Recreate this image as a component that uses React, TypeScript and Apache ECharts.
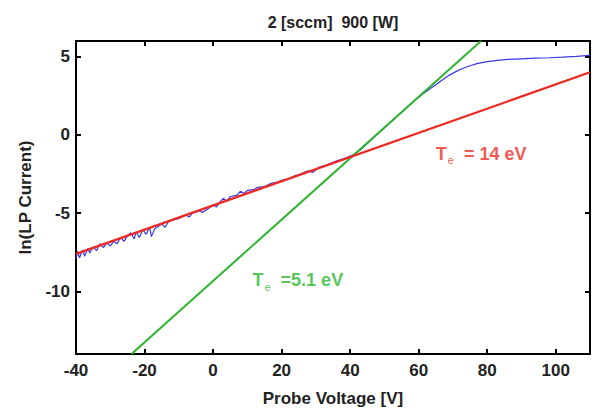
import React, { useEffect, useRef } from "react";
import * as echarts from "echarts";

const titleText = "2 [sccm]  900 [W]";
const xName = "Probe Voltage [V]";
const yName = "ln(LP Current)";

const xTicks = [-40, -20, 0, 20, 40, 60, 80, 100];
const yTicks = [-10, -5, 0, 5];

// measured probe trace (V, ln I)
const probeVoltage = [
  -40, -39.5, -39, -38, -37.5, -36.5, -36, -35, -34, -33, -32, -31, -30, -29, -28, -27, -26, -25,
  -24, -23, -22.5, -21.5, -20.5, -19.5, -18.5, -18, -17, -16, -15, -14, -13, -12, -10, -8, -7, -6,
  -4, -3, -1, 0, 1, 2, 3, 4, 5, 7, 8, 9, 10, 12, 13, 15, 17, 19, 20, 22, 24, 25, 27, 28, 29, 31,
  33, 35, 37, 39, 41, 43, 45, 47, 49, 51, 53, 55, 57, 59, 61, 63, 65, 67, 69, 71, 73, 75, 77, 80,
  83, 86, 90, 94, 98, 102, 106, 110,
];
const lnCurrent = [
  -7.9, -7.45, -7.85, -7.35, -7.75, -7.25, -7.55, -7.15, -7.4, -6.95, -7.2, -6.9, -7.1, -6.8, -6.95,
  -6.55, -6.8, -6.45, -6.25, -6.65, -6.2, -6.55, -6.05, -6.35, -5.9, -6.5, -6.0, -5.85, -5.7, -5.9,
  -5.55, -5.45, -5.35, -5.1, -5.25, -5.0, -4.85, -4.95, -4.65, -4.45, -4.6, -4.3, -4.05, -4.25,
  -3.95, -3.85, -3.6, -3.75, -3.55, -3.5, -3.35, -3.3, -3.1, -3.0, -2.9, -2.8, -2.6, -2.55, -2.35,
  -2.3, -2.4, -2.05, -1.95, -1.75, -1.6, -1.45, -1.25, -0.95, -0.55, -0.15, 0.25, 0.65, 1.05, 1.45,
  1.85, 2.22, 2.58, 2.9, 3.2, 3.52, 3.82, 4.06, 4.26, 4.42, 4.55, 4.68, 4.76, 4.82, 4.86, 4.9, 4.93,
  4.97, 5.02, 5.08,
];

// fit lines
const redFitX = [-40, 110];
const redFitY = [-7.6, 4.0];
const greenFitX = [-23.8, 78.2];
const greenFitY = [-14, 6];

// annotation anchors
const redLabelPos = [65, -1.2];
const greenLabelPos = [11.5, -9.3];
const redLabelValue = " = 14 eV";
const greenLabelValue = " =5.1 eV";

const RED = "#ec2a22";
const GREEN = "#2db52d";
const BLUE = "#3838e8";
const FONT = "Liberation Sans, Arial, Helvetica, sans-serif";

function zip(xs: number[], ys: number[]) {
  return xs.map((x, i) => [x, ys[i]]);
}

function richLabel(color: string) {
  return {
    t: { color, fontSize: 18, fontWeight: "bold", fontFamily: FONT, lineHeight: 24 },
    s: { color, fontSize: 11, fontFamily: FONT, lineHeight: 11, padding: [13, 5, 0, 1] },
    v: { color, fontSize: 18, fontWeight: "bold", fontFamily: FONT, lineHeight: 24 },
  };
}

export default function App() {
  const ref = useRef<HTMLDivElement>(null);
  useEffect(() => {
    if (!ref.current) return;
    const chart = echarts.init(ref.current, null, { renderer: "svg" });
    const axisLine = { onZero: false, lineStyle: { color: "#000", width: 2 } };
    const tickStyle = { color: "#000", width: 2 };
    const nameStyle = { color: "#222", fontSize: 17, fontWeight: "bold", fontFamily: FONT };
    const tickLabel = {
      color: "#222",
      fontSize: 17,
      fontWeight: "bold",
      fontFamily: FONT,
      formatter: (v: number) => String(v),
    };
    chart.setOption({
      animation: false,
      backgroundColor: "#fff",
      grid: { left: 76, right: 3, top: 41, bottom: 56, containLabel: false },
      xAxis: [
        {
          type: "value",
          position: "bottom",
          min: -40,
          max: 110,
          name: xName,
          nameLocation: "middle",
          nameGap: 36,
          nameTextStyle: nameStyle,
          axisLine,
          axisTick: { show: true, inside: true, length: 5, customValues: xTicks, lineStyle: tickStyle },
          axisLabel: { ...tickLabel, customValues: xTicks, margin: 8 },
          splitLine: { show: false },
        },
        {
          type: "value",
          position: "top",
          min: -40,
          max: 110,
          name: titleText,
          nameLocation: "middle",
          nameGap: 11,
          nameTextStyle: { ...nameStyle, fontSize: 16 },
          axisLine,
          axisTick: { show: true, inside: true, length: 5, customValues: xTicks, lineStyle: tickStyle },
          axisLabel: { show: false },
          splitLine: { show: false },
        },
      ],
      yAxis: [
        {
          type: "value",
          position: "left",
          min: -14,
          max: 6,
          name: yName,
          nameLocation: "middle",
          nameGap: 42,
          nameTextStyle: nameStyle,
          axisLine,
          axisTick: { show: true, inside: true, length: 5, customValues: yTicks, lineStyle: tickStyle },
          axisLabel: { ...tickLabel, customValues: yTicks, margin: 6 },
          splitLine: { show: false },
        },
        {
          type: "value",
          position: "right",
          min: -14,
          max: 6,
          axisLine,
          axisTick: { show: true, inside: true, length: 5, customValues: yTicks, lineStyle: tickStyle },
          axisLabel: { show: false },
          splitLine: { show: false },
        },
      ],
      series: [
        {
          type: "line",
          name: "trace",
          data: zip(probeVoltage, lnCurrent),
          showSymbol: false,
          symbol: "none",
          lineStyle: { color: BLUE, width: 1.2 },
          z: 2,
        },
        {
          type: "line",
          name: "green fit",
          data: zip(greenFitX, greenFitY),
          showSymbol: false,
          symbol: "none",
          lineStyle: { color: GREEN, width: 2 },
          z: 3,
        },
        {
          type: "line",
          name: "red fit",
          data: zip(redFitX, redFitY),
          showSymbol: false,
          symbol: "none",
          lineStyle: { color: RED, width: 2.2 },
          z: 4,
        },
        {
          type: "scatter",
          symbolSize: 0,
          silent: true,
          data: [redLabelPos, greenLabelPos],
          label: {
            show: true,
            position: "right",
            distance: 0,
            formatter: (p: any) =>
              p.dataIndex === 0
                ? "{t|T}{s|e}{v|" + redLabelValue + "}"
                : "{tg|T}{sg|e}{vg|" + greenLabelValue + "}",
            rich: {
              ...richLabel(RED),
              tg: richLabel(GREEN).t,
              sg: richLabel(GREEN).s,
              vg: richLabel(GREEN).v,
            },
          },
          z: 5,
        },
      ],
    });
    return () => chart.dispose();
  }, []);
  return <div ref={ref} style={{ width: 593, height: 412, position: "absolute", left: 0, top: 0 }} />;
}
